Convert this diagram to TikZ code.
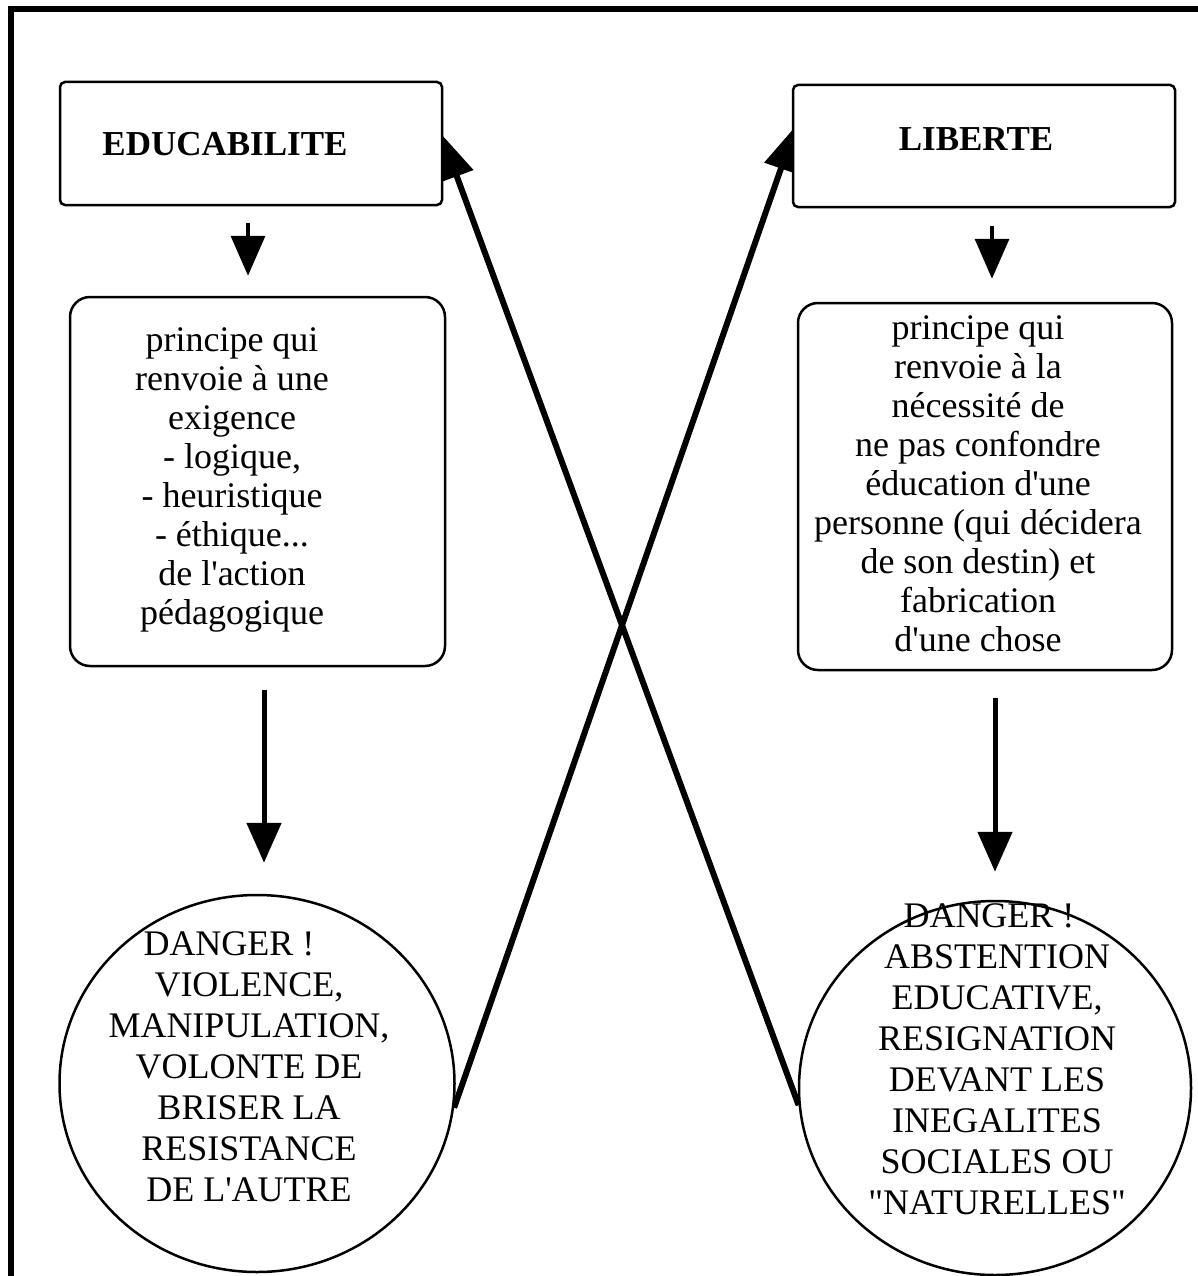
\documentclass[tikz,border=0pt]{standalone}
\usepackage{fontspec}
\setmainfont{Liberation Serif}
\usetikzlibrary{arrows.meta,shapes.geometric,backgrounds}
\newcommand\apos{\textquotesingle}
\newcommand\dquo{\textquotedbl}
\tikzset{
  titlebox/.style={draw, line width=2.5pt, rounded corners=5pt, fill=white, inner sep=0pt},
  textbox/.style={draw, line width=2.5pt, rounded corners=20pt, fill=white, inner sep=0pt},
  dangerell/.style={draw, ellipse, line width=2.5pt, fill=white, inner sep=0pt},
  titletxt/.style={inner sep=0pt, font=\fontsize{35}{40}\selectfont\bfseries},
  bodytxt/.style={align=center, inner sep=0pt, font=\fontsize{36}{39}\selectfont},
  dangertxt/.style={align=center, inner sep=0pt, font=\fontsize{36}{41}\selectfont},
  sarrow/.style={line width=3.5pt, -{Triangle[length=40pt,width=34pt]}},
  larrow/.style={line width=5pt, -{Triangle[length=40pt,width=34pt]}},
  xarrow/.style={line width=6pt, -{Triangle[length=45pt,width=34pt]}},
}
\begin{document}
\begin{tikzpicture}[x=1pt,y=-1pt]
\useasboundingbox (0,0) rectangle (1198,1276);
% frame (top and left edges)
\draw[line width=6pt] (11,1290) -- (11,9) -- (1210,9);

% boxes
\node[titlebox, minimum width=382pt, minimum height=123pt] (edu) at (251,143.5) {};
\node[titletxt] (edut) at (225,144) {EDUCABILITE};
\node[titlebox, minimum width=382pt, minimum height=122pt] (lib) at (984,146) {};
\node[titletxt] (libt) at (976,139) {LIBERTE};

\node[textbox, minimum width=375pt, minimum height=369pt] (p1) at (257.5,481.5) {};
\node[bodytxt] (p1t) at (232,480) {principe qui\\renvoie à une\\exigence\\- logique,\\- heuristique\\- éthique...\\de l\apos action\\pédagogique};

\node[textbox, minimum width=374pt, minimum height=367pt] (p2) at (985,486.5) {};
\node[bodytxt] (p2t) at (978,484) {principe qui\\renvoie à la\\nécessité de\\ne pas confondre\\éducation d\apos une\\personne (qui décidera\\de son destin) et\\fabrication\\d\apos une chose};

\node[dangerell, minimum width=395pt, minimum height=377pt] (d1) at (257,1083.5) {};
\node[dangertxt] (d1t) at (249,1067) {DANGER !\hspace*{40pt}\\VIOLENCE,\\MANIPULATION,\\VOLONTE DE\\BRISER LA\\RESISTANCE\\DE L\apos AUTRE};

\node[dangerell, minimum width=392pt, minimum height=374pt] (d2) at (995,1088) {};
\node[dangertxt] (d2t) at (997,1059) {DANGER !\hspace*{16pt}\\ABSTENTION\\EDUCATIVE,\\RESIGNATION\\DEVANT LES\\INEGALITES\\SOCIALES OU\\\dquo NATURELLES\dquo};

% vertical arrows
\draw[sarrow, shorten <=17pt, shorten >=20pt] ([xshift=-3pt]edu.south) -- ([xshift=-9.5pt]p1.north);
\draw[sarrow, shorten <=18pt, shorten >=23pt] ([xshift=8pt]lib.south) -- ([xshift=7pt]p2.north);
\draw[larrow, shorten <=23pt, shorten >=31pt] ([xshift=6.5pt]p1.south) -- ([xshift=7pt]d1.north);
\draw[larrow, shorten <=27pt, shorten >=28pt] ([xshift=10pt]p2.south) -- (d2.north);

% crossing arrows (behind the boxes)
\begin{pgfonlayer}{background}
\draw[xarrow] (d1.-7) -- ([xshift=4pt,yshift=20pt]lib.west);
\draw[xarrow] (d2.185) -- ([xshift=-2pt,yshift=9.5pt]edu.east);
\end{pgfonlayer}
\end{tikzpicture}
\end{document}
